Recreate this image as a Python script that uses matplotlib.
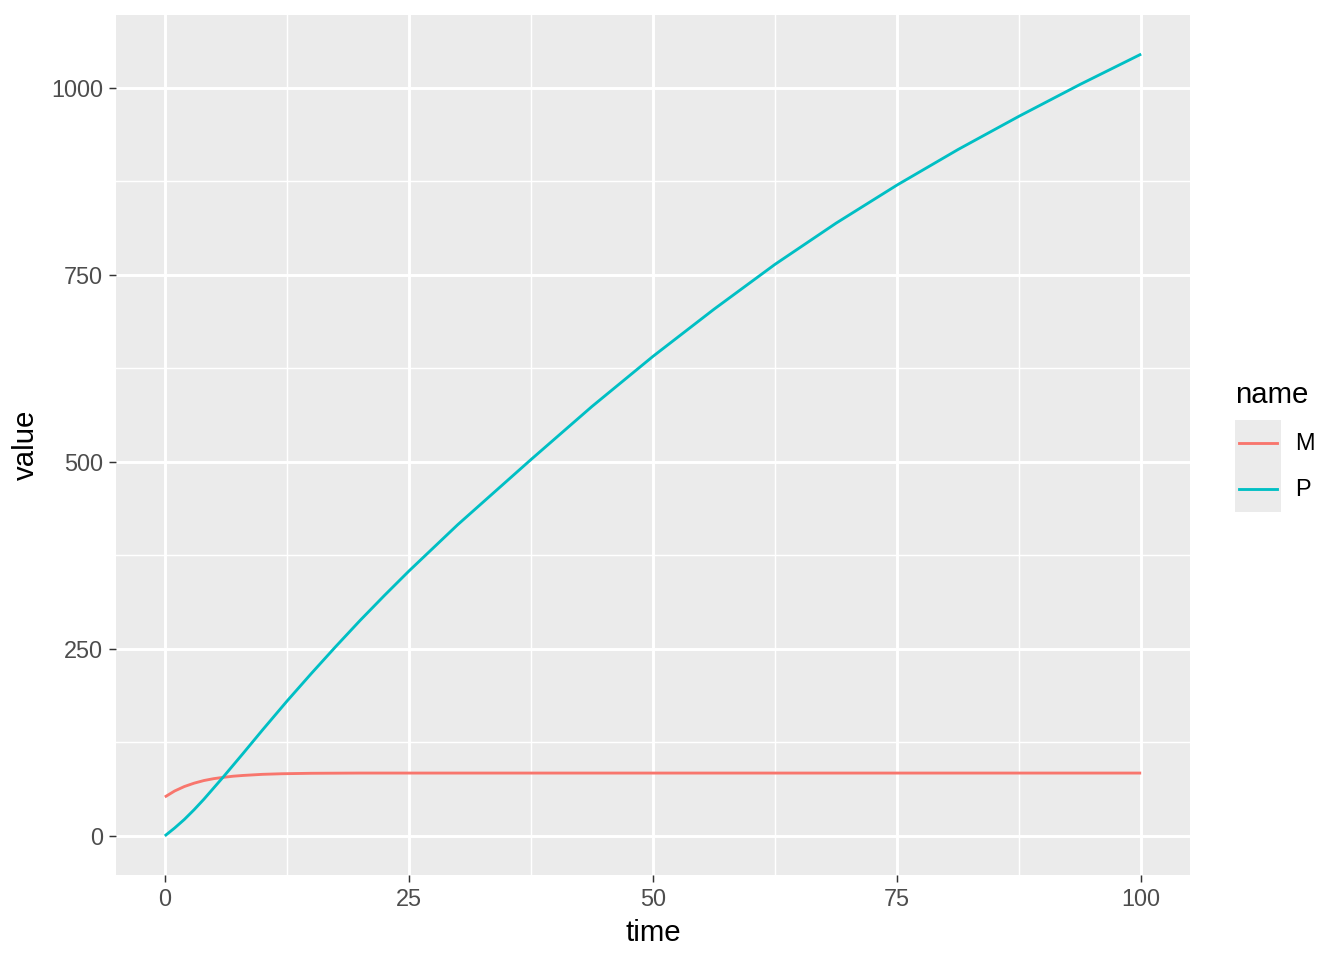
import matplotlib
matplotlib.use("Agg")
import matplotlib.pyplot as plt
from matplotlib.lines import Line2D

plt.rcParams['font.family'] = ['Liberation Sans', 'DejaVu Sans']

series_names = ["M", "P"]
series_colors = ["#F8766D", "#00BFC4"]

time_M = [0, 1, 2, 3, 4, 5, 6, 7, 8, 10, 12, 15, 20, 30, 50, 75, 100]
value_M = [52, 60, 66, 70.5, 74, 76.5, 78.3, 79.8, 80.8, 82.3, 83.1, 83.7, 84, 84, 84, 84, 84]

time_P = [0, 1, 2, 3, 4, 5, 6, 7, 8, 10, 12.5, 15, 17.5, 20, 22.5, 25, 30, 37.5, 43.75,
          50, 56.25, 62.5, 68.75, 75, 81.25, 87.5, 93.75, 100]
value_P = [0, 10.5, 22, 35, 49, 64, 79, 94.5, 110, 141.5, 180, 217, 253, 288, 321.5, 354, 416, 503, 574,
           641, 704, 764, 819, 870, 917.5, 962, 1004.5, 1045]

x_major = [0, 25, 50, 75, 100]
x_minor = [12.5, 37.5, 62.5, 87.5]
y_major = [0, 250, 500, 750, 1000]
y_minor = [125, 375, 625, 875]

W, H = 1344, 960
fig = plt.figure(figsize=(7, 5), dpi=192)
ax = fig.add_axes([116 / W, 1 - 875 / H, (1190 - 116) / W, (875 - 15) / H])
ax.set_facecolor("#EBEBEB")
for s in ax.spines.values():
    s.set_visible(False)

for v in x_minor:
    ax.axvline(v, color="white", lw=0.55, zorder=0)
for v in y_minor:
    ax.axhline(v, color="white", lw=0.55, zorder=0)
for v in x_major:
    ax.axvline(v, color="white", lw=1.1, zorder=0)
for v in y_major:
    ax.axhline(v, color="white", lw=1.1, zorder=0)

ax.plot(time_M, value_M, color=series_colors[0], lw=1.07, solid_capstyle="butt",
        solid_joinstyle="round", zorder=2)
ax.plot(time_P, value_P, color=series_colors[1], lw=1.07, solid_capstyle="butt",
        solid_joinstyle="round", zorder=2)

ax.set_xlim(-5, 105)
ax.set_ylim(-52.25, 1097.25)
ax.set_xticks(x_major)
ax.set_yticks(y_major)
ax.set_xticklabels([str(v) for v in x_major])
ax.set_yticklabels([str(v) for v in y_major])
ax.tick_params(axis="both", length=2.75, width=0.55, color="#333333",
               labelcolor="#4D4D4D", labelsize=8.8, pad=2.2)
ax.set_xlabel("time", fontsize=11, color="black", labelpad=3)
ax.set_ylabel("value", fontsize=11, color="black", labelpad=4)

# Legend (ggplot style)
fig.text(1235 / W, 1 - 395 / H, "name", fontsize=11, ha="left", va="center")
lax = fig.add_axes([1235 / W, 1 - 512 / H, (1281 - 1235) / W, (512 - 420) / H])
lax.set_facecolor("#EBEBEB")
for s in lax.spines.values():
    s.set_visible(False)
lax.set_xticks([])
lax.set_yticks([])
lax.set_xlim(0, 1)
lax.set_ylim(0, 2)
for i, (nm, col) in enumerate(zip(series_names, series_colors)):
    yk = 1.5 - i
    lax.add_line(Line2D([0.09, 0.91], [yk, yk], color=col, lw=1.07))
    fig.text(1295 / W, 1 - (443 + 46.5 * i) / H, nm, fontsize=8.8, ha="left", va="center")

fig.savefig("out.png", dpi=192)
